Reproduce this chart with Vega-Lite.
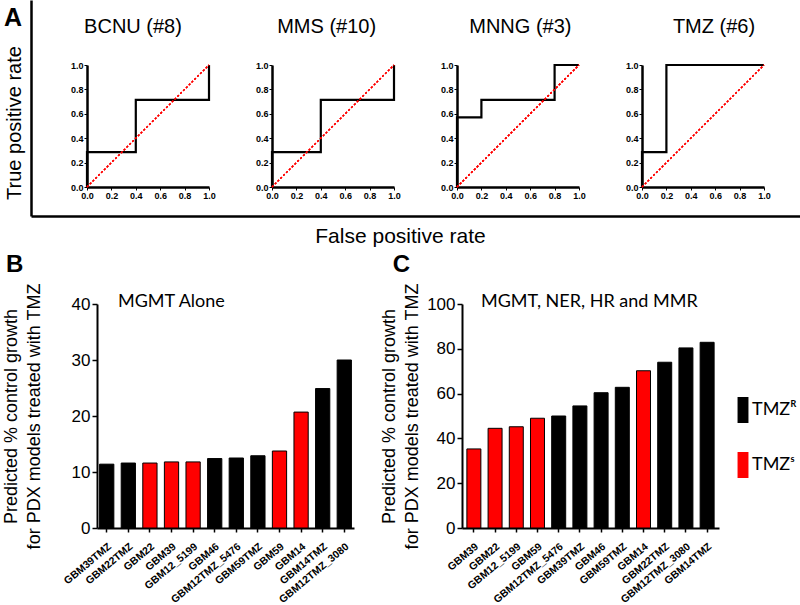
{
  "$schema": "https://vega.github.io/schema/vega-lite/v6.json",
  "padding": {"left": 2, "top": 0, "right": 0, "bottom": 0},
  "background": "white",
  "config": {
    "view": {"stroke": null},
    "font": "Liberation Sans",
    "axis": {"grid": false, "labelOverlap": false, "domainColor": "black", "tickColor": "black", "labelColor": "black", "titleColor": "black", "titleFontWeight": "normal", "titleFont": "Liberation Sans", "labelFont": "Liberation Sans"},
    "title": {"color": "black", "font": "Liberation Sans"}
  },
  "datasets": {
    "drugs": [
      {"drug": "BCNU", "label": "BCNU (#8)"},
      {"drug": "MMS", "label": "MMS (#10)"},
      {"drug": "MNNG", "label": "MNNG (#3)"},
      {"drug": "TMZ", "label": "TMZ (#6)"}
    ],
    "roc": [
      {"drug": "BCNU", "i": 0, "fpr": 0, "tpr": 0},
      {"drug": "BCNU", "i": 1, "fpr": 0, "tpr": 0.286},
      {"drug": "BCNU", "i": 2, "fpr": 0.4, "tpr": 0.714},
      {"drug": "BCNU", "i": 3, "fpr": 1, "tpr": 1},
      {"drug": "MMS", "i": 0, "fpr": 0, "tpr": 0},
      {"drug": "MMS", "i": 1, "fpr": 0, "tpr": 0.286},
      {"drug": "MMS", "i": 2, "fpr": 0.4, "tpr": 0.714},
      {"drug": "MMS", "i": 3, "fpr": 1, "tpr": 1},
      {"drug": "MNNG", "i": 0, "fpr": 0, "tpr": 0},
      {"drug": "MNNG", "i": 1, "fpr": 0, "tpr": 0.571},
      {"drug": "MNNG", "i": 2, "fpr": 0.2, "tpr": 0.714},
      {"drug": "MNNG", "i": 3, "fpr": 0.8, "tpr": 1},
      {"drug": "MNNG", "i": 4, "fpr": 1, "tpr": 1},
      {"drug": "TMZ", "i": 0, "fpr": 0, "tpr": 0},
      {"drug": "TMZ", "i": 1, "fpr": 0, "tpr": 0.286},
      {"drug": "TMZ", "i": 2, "fpr": 0.2, "tpr": 1},
      {"drug": "TMZ", "i": 3, "fpr": 1, "tpr": 1}
    ],
    "mgmt": [
      {"model": "GBM39TMZ", "value": 11.4, "status": "R"},
      {"model": "GBM22TMZ", "value": 11.6, "status": "R"},
      {"model": "GBM22", "value": 11.6, "status": "S"},
      {"model": "GBM39", "value": 11.8, "status": "S"},
      {"model": "GBM12_5199", "value": 11.8, "status": "S"},
      {"model": "GBM46", "value": 12.4, "status": "R"},
      {"model": "GBM12TMZ_5476", "value": 12.5, "status": "R"},
      {"model": "GBM59TMZ", "value": 12.9, "status": "R"},
      {"model": "GBM59", "value": 13.75, "status": "S"},
      {"model": "GBM14", "value": 20.7, "status": "S"},
      {"model": "GBM14TMZ", "value": 24.9, "status": "R"},
      {"model": "GBM12TMZ_3080", "value": 30.0, "status": "R"}
    ],
    "full": [
      {"model": "GBM39", "value": 35.3, "status": "S"},
      {"model": "GBM22", "value": 44.5, "status": "S"},
      {"model": "GBM12_5199", "value": 45.2, "status": "S"},
      {"model": "GBM59", "value": 49.0, "status": "S"},
      {"model": "GBM12TMZ_5476", "value": 50.0, "status": "R"},
      {"model": "GBM39TMZ", "value": 54.5, "status": "R"},
      {"model": "GBM46", "value": 60.4, "status": "R"},
      {"model": "GBM59TMZ", "value": 62.8, "status": "R"},
      {"model": "GBM14", "value": 70.2, "status": "S"},
      {"model": "GBM22TMZ", "value": 74.0, "status": "R"},
      {"model": "GBM12TMZ_3080", "value": 80.4, "status": "R"},
      {"model": "GBM14TMZ", "value": 82.9, "status": "R"}
    ]
  },
  "title": {"text": "A", "anchor": "start", "frame": "bounds", "offset": -31, "dx": 2, "fontSize": 25, "fontWeight": "bold"},
  "spacing": 6,
  "vconcat": [
    {
      "title": {"text": "True positive rate", "orient": "left", "anchor": "middle", "frame": "bounds", "fontSize": 20, "fontWeight": "normal", "offset": 6},
      "spacing": 0,
      "vconcat": [
        {
          "spacing": 38,
          "hconcat": [
            {
              "width": 1,
              "height": 216,
              "data": {"name": "roc"},
              "mark": {"type": "point", "opacity": 0, "size": 0},
              "encoding": {
                "y": {"field": "tpr", "type": "quantitative", "scale": {"domain": [0, 1]}, "axis": {"title": null, "labels": false, "ticks": false, "domainWidth": 2.5}}
              }
            },
            {
              "spacing": 6,
              "vconcat": [
                {
                  "width": 673,
                  "height": 54,
                  "data": {"name": "drugs"},
                  "mark": {"type": "text", "fontSize": 20, "font": "Liberation Sans", "color": "black", "baseline": "middle"},
                  "encoding": {
                    "x": {"field": "drug", "type": "nominal", "sort": null, "scale": {"type": "point", "padding": 0.2375}, "axis": null},
                    "text": {"field": "label"}
                  }
                },
                {
                  "spacing": 39,
                  "hconcat": [
                    {
                      "width": 122, "height": 122,
                      "data": {"name": "roc"},
                      "transform": [{"filter": "datum.drug == 'BCNU'"}],
                      "layer": [
                        {"mark": {"type": "line", "interpolate": "step-after", "stroke": "black", "strokeWidth": 2.2},
                         "encoding": {
                           "x": {"field": "fpr", "type": "quantitative", "scale": {"domain": [0, 1], "nice": false}, "axis": {"title": null, "values": [0, 0.2, 0.4, 0.6, 0.8, 1], "tickCount": 10, "format": ".1f", "labelFontSize": 9, "labelFontWeight": "bold", "tickSize": 3, "labelPadding": 1, "domainWidth": 2.5, "labelFlush": false, "labelOverlap": false}},
                           "y": {"field": "tpr", "type": "quantitative", "scale": {"domain": [0, 1], "nice": false}, "axis": {"title": null, "values": [0, 0.2, 0.4, 0.6, 0.8, 1], "tickCount": 10, "format": ".1f", "labelFontSize": 9, "labelFontWeight": "bold", "tickSize": 3, "labelPadding": 1, "domainWidth": 2.5, "labelFlush": false, "labelOverlap": false}},
                           "order": {"field": "i"}
                         }},
                        {"mark": {"type": "rule", "color": "#ff0000", "stroke": "#ff0000", "strokeDash": [2, 2], "strokeWidth": 1.2},
                         "encoding": {"x": {"datum": 0, "type": "quantitative"}, "y": {"datum": 0, "type": "quantitative"}, "x2": {"datum": 1}, "y2": {"datum": 1}}}
                      ]
                    },
                    {
                      "width": 122, "height": 122,
                      "data": {"name": "roc"},
                      "transform": [{"filter": "datum.drug == 'MMS'"}],
                      "layer": [
                        {"mark": {"type": "line", "interpolate": "step-after", "stroke": "black", "strokeWidth": 2.2},
                         "encoding": {
                           "x": {"field": "fpr", "type": "quantitative", "scale": {"domain": [0, 1], "nice": false}, "axis": {"title": null, "values": [0, 0.2, 0.4, 0.6, 0.8, 1], "tickCount": 10, "format": ".1f", "labelFontSize": 9, "labelFontWeight": "bold", "tickSize": 3, "labelPadding": 1, "domainWidth": 2.5, "labelFlush": false, "labelOverlap": false}},
                           "y": {"field": "tpr", "type": "quantitative", "scale": {"domain": [0, 1], "nice": false}, "axis": {"title": null, "values": [0, 0.2, 0.4, 0.6, 0.8, 1], "tickCount": 10, "format": ".1f", "labelFontSize": 9, "labelFontWeight": "bold", "tickSize": 3, "labelPadding": 1, "domainWidth": 2.5, "labelFlush": false, "labelOverlap": false}},
                           "order": {"field": "i"}
                         }},
                        {"mark": {"type": "rule", "color": "#ff0000", "stroke": "#ff0000", "strokeDash": [2, 2], "strokeWidth": 1.2},
                         "encoding": {"x": {"datum": 0, "type": "quantitative"}, "y": {"datum": 0, "type": "quantitative"}, "x2": {"datum": 1}, "y2": {"datum": 1}}}
                      ]
                    },
                    {
                      "width": 122, "height": 122,
                      "data": {"name": "roc"},
                      "transform": [{"filter": "datum.drug == 'MNNG'"}],
                      "layer": [
                        {"mark": {"type": "line", "interpolate": "step-after", "stroke": "black", "strokeWidth": 2.2},
                         "encoding": {
                           "x": {"field": "fpr", "type": "quantitative", "scale": {"domain": [0, 1], "nice": false}, "axis": {"title": null, "values": [0, 0.2, 0.4, 0.6, 0.8, 1], "tickCount": 10, "format": ".1f", "labelFontSize": 9, "labelFontWeight": "bold", "tickSize": 3, "labelPadding": 1, "domainWidth": 2.5, "labelFlush": false, "labelOverlap": false}},
                           "y": {"field": "tpr", "type": "quantitative", "scale": {"domain": [0, 1], "nice": false}, "axis": {"title": null, "values": [0, 0.2, 0.4, 0.6, 0.8, 1], "tickCount": 10, "format": ".1f", "labelFontSize": 9, "labelFontWeight": "bold", "tickSize": 3, "labelPadding": 1, "domainWidth": 2.5, "labelFlush": false, "labelOverlap": false}},
                           "order": {"field": "i"}
                         }},
                        {"mark": {"type": "rule", "color": "#ff0000", "stroke": "#ff0000", "strokeDash": [2, 2], "strokeWidth": 1.2},
                         "encoding": {"x": {"datum": 0, "type": "quantitative"}, "y": {"datum": 0, "type": "quantitative"}, "x2": {"datum": 1}, "y2": {"datum": 1}}}
                      ]
                    },
                    {
                      "width": 122, "height": 122,
                      "data": {"name": "roc"},
                      "transform": [{"filter": "datum.drug == 'TMZ'"}],
                      "layer": [
                        {"mark": {"type": "line", "interpolate": "step-after", "stroke": "black", "strokeWidth": 2.2},
                         "encoding": {
                           "x": {"field": "fpr", "type": "quantitative", "scale": {"domain": [0, 1], "nice": false}, "axis": {"title": null, "values": [0, 0.2, 0.4, 0.6, 0.8, 1], "tickCount": 10, "format": ".1f", "labelFontSize": 9, "labelFontWeight": "bold", "tickSize": 3, "labelPadding": 1, "domainWidth": 2.5, "labelFlush": false, "labelOverlap": false}},
                           "y": {"field": "tpr", "type": "quantitative", "scale": {"domain": [0, 1], "nice": false}, "axis": {"title": null, "values": [0, 0.2, 0.4, 0.6, 0.8, 1], "tickCount": 10, "format": ".1f", "labelFontSize": 9, "labelFontWeight": "bold", "tickSize": 3, "labelPadding": 1, "domainWidth": 2.5, "labelFlush": false, "labelOverlap": false}},
                           "order": {"field": "i"}
                         }},
                        {"mark": {"type": "rule", "color": "#ff0000", "stroke": "#ff0000", "strokeDash": [2, 2], "strokeWidth": 1.2},
                         "encoding": {"x": {"datum": 0, "type": "quantitative"}, "y": {"datum": 0, "type": "quantitative"}, "x2": {"datum": 1}, "y2": {"datum": 1}}}
                      ]
                    }
                  ]
                }
              ]
            }
          ]
        },
        {
          "width": 769,
          "height": 1,
          "data": {"name": "roc"},
          "mark": {"type": "point", "opacity": 0, "size": 0},
          "encoding": {
            "x": {"field": "fpr", "type": "quantitative", "scale": {"domain": [0, 1]}, "axis": {"title": "False positive rate", "orient": "top", "labels": false, "ticks": false, "domainWidth": 2.5, "titleFontSize": 21, "titleX": 369, "titleBaseline": "top", "titleY": 9}}
          }
        }
      ]
    },
    {
      "spacing": -30,
      "hconcat": [
        {
          "width": 1,
          "height": 1,
          "data": {"name": "mgmt"},
          "mark": {"type": "point", "opacity": 0, "size": 0}
        },
        {
          "spacing": 26,
          "resolve": {"scale": {"color": "independent"}, "legend": {"color": "independent"}},
          "hconcat": [
            {
              "title": {"text": "B", "anchor": "start", "frame": "bounds", "fontSize": 24, "fontWeight": "bold", "dx": 4, "offset": 6},
              "vconcat": [
                {
                  "width": 257, "height": 224,
                  "data": {"name": "mgmt"},
                  "title": {"text": "MGMT Alone", "anchor": "start", "frame": "group", "font": "Lato", "fontSize": 18, "fontWeight": "normal", "dx": 21, "offset": -42, "baseline": "alphabetic"},
                  "mark": {"type": "bar", "stroke": "black", "strokeWidth": 1},
                  "encoding": {
                    "x": {"field": "model", "type": "nominal", "sort": null, "scale": {"paddingInner": 0.34, "paddingOuter": 0.12}, "axis": {"title": null, "labelAngle": -40, "labelFontSize": 10.5, "labelFontWeight": "bold", "tickSize": 4, "tickWidth": 1.5, "domainWidth": 2, "labelPadding": 9}},
                    "y": {"field": "value", "type": "quantitative", "scale": {"domain": [0, 40], "nice": false}, "axis": {"title": ["Predicted % control growth", "for PDX models treated with TMZ"], "titleFontSize": 18, "titleLineHeight": 23, "titlePadding": 28, "values": [0, 10, 20, 30, 40], "tickCount": 10, "labelFontSize": 17, "tickSize": 5, "tickWidth": 1.5, "domainWidth": 2, "labelPadding": 2, "labelFlush": false}},
                    "color": {"field": "status", "type": "nominal", "scale": {"domain": ["R", "S"], "range": ["#000000", "#ff0000"]}, "legend": null}
                  }
                }
              ]
            },
            {
              "title": {"text": "C", "anchor": "start", "frame": "bounds", "fontSize": 24, "fontWeight": "bold", "dx": 12, "offset": 6},
              "vconcat": [
                {
                  "width": 257, "height": 224,
                  "data": {"name": "full"},
                  "title": {"text": "MGMT, NER, HR and MMR", "anchor": "start", "frame": "group", "font": "Lato", "fontSize": 18, "fontWeight": "normal", "dx": 19, "offset": -42, "baseline": "alphabetic"},
                  "mark": {"type": "bar", "stroke": "black", "strokeWidth": 1},
                  "encoding": {
                    "x": {"field": "model", "type": "nominal", "sort": null, "scale": {"paddingInner": 0.34, "paddingOuter": 0.23}, "axis": {"title": null, "labelAngle": -40, "labelFontSize": 10.5, "labelFontWeight": "bold", "tickSize": 4, "tickWidth": 1.5, "domainWidth": 2, "labelPadding": 9}},
                    "y": {"field": "value", "type": "quantitative", "scale": {"domain": [0, 100], "nice": false}, "axis": {"title": ["Predicted % control growth", "for PDX models treated with TMZ"], "titleFontSize": 18, "titleLineHeight": 23, "titlePadding": 5, "values": [0, 20, 40, 60, 80, 100], "tickCount": 10, "labelFontSize": 17, "tickSize": 5, "tickWidth": 1.5, "domainWidth": 2, "labelPadding": 2, "labelFlush": false}},
                    "color": {"field": "status", "type": "nominal", "scale": {"domain": ["R", "S"], "range": ["#000000", "#ff0000"]}, "legend": {"title": null, "orient": "none", "legendX": 268, "legendY": 93, "padding": 0, "symbolType": "M-0.42,-1H0.42V1H-0.42Z", "symbolSize": 676, "symbolStrokeWidth": 0, "symbolOpacity": 1, "rowPadding": 29, "labelOffset": -4, "labelFont": "Lato", "labelFontSize": 18, "labelColor": "black", "labelExpr": "datum.label == 'R' ? 'TMZᴿ' : 'TMZˢ'"}}
                  }
                }
              ]
            }
          ]
        }
      ]
    }
  ]
}
